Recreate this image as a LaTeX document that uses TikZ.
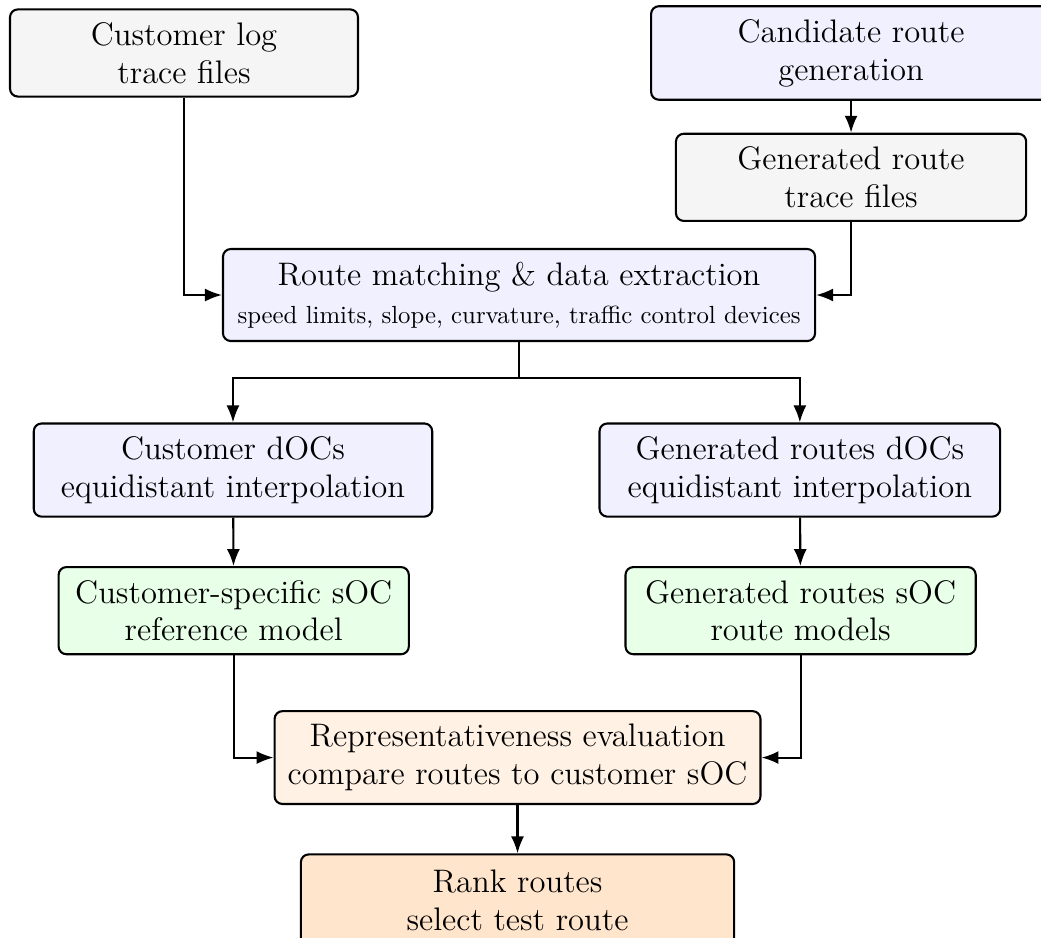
\documentclass[tikz,border=0pt]{standalone}
\usepackage{tikz}
\usetikzlibrary{arrows.meta}
\tikzset{box/.style={draw,thick,rounded corners=3pt,align=center,inner sep=5pt,minimum height=1.16cm,font=\fontsize{12.5}{14.5}\selectfont}}
\tikzset{arr/.style={-{Latex[length=6.5pt,width=5pt]},thick}}
\tikzset{trace/.style={box,fill=gray!8}}
\tikzset{proc/.style={box,fill=blue!6}}
\tikzset{model/.style={box,fill=green!9}}

\begin{document}
\begin{tikzpicture}
  \useasboundingbox (0,0) rectangle (14.03,-12.64);
  \node[trace,minimum width=4.69cm] (cust) at (2.48,-0.714) {Customer log\\trace files};
  \node[proc,minimum width=5.39cm,minimum height=1.24cm] (cand) at (11.47,-0.714) {Candidate route\\generation};
  \node[trace,minimum width=4.72cm] (gen) at (11.47,-2.39) {Generated route\\trace files};
  \node[proc,minimum width=7.98cm,minimum height=1.21cm,inner xsep=4pt] (match) at (6.995,-3.976) {Route matching \& data extraction\\{\fontsize{9.5}{12}\selectfont speed limits, slope, curvature, traffic control devices}};
  \node[proc,minimum width=5.37cm,minimum height=1.25cm] (cdoc) at (3.14,-6.335) {Customer dOCs\\equidistant interpolation};
  \node[proc,minimum width=5.40cm,minimum height=1.25cm] (gdoc) at (10.78,-6.335) {Generated routes dOCs\\equidistant interpolation};
  \node[model,minimum width=4.72cm] (csoc) at (3.15,-8.23) {Customer-specific sOC\\reference model};
  \node[model,minimum width=4.72cm] (gsoc) at (10.79,-8.23) {Generated routes sOC\\route models};
  \node[box,fill=orange!10,minimum width=6.54cm,minimum height=1.23cm] (eval) at (6.975,-10.21) {Representativeness evaluation\\compare routes to customer sOC};
  \node[box,fill=orange!20,minimum width=5.84cm,minimum height=1.23cm] (rank) at (6.975,-12.13) {Rank routes\\select test route};
  \draw[arr] (cust) |- (match);
  \draw[arr] (cand) -- (gen);
  \draw[arr] (gen) |- (match);
  \draw[thick] (match.south) -- ++(0,-0.49) coordinate (split);
  \draw[arr] (split) -| (cdoc);
  \draw[arr] (split) -| (gdoc);
  \draw[arr] (cdoc) -- (csoc);
  \draw[arr] (gdoc) -- (gsoc);
  \draw[arr] (csoc) |- (eval);
  \draw[arr] (gsoc) |- (eval);
  \draw[arr] (eval) -- (rank);
\end{tikzpicture}
\end{document}
